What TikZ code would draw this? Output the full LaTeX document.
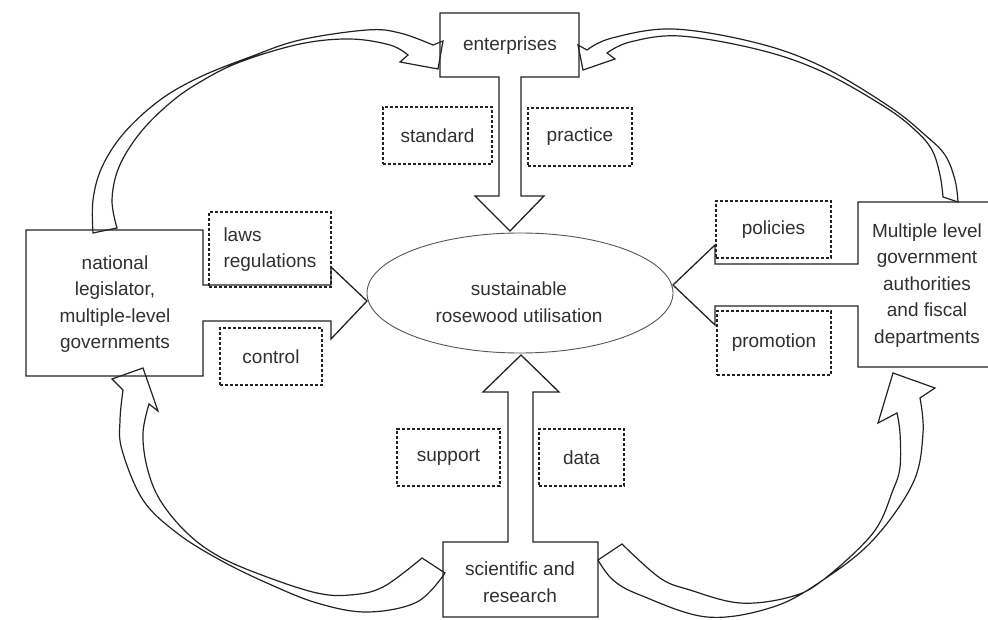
\documentclass[tikz,border=0pt]{standalone}
\usepackage{fontspec}
\setmainfont{Liberation Sans}
\usetikzlibrary{shapes.geometric}
\definecolor{ink}{HTML}{222222}
\definecolor{txt}{HTML}{303030}
\definecolor{ellc}{HTML}{555555}
\newcommand{\diagfont}{\fontsize{19}{26.5}\selectfont}
\begin{document}
\begin{tikzpicture}[x=1pt,y=-1pt,
  shapeline/.style={draw=ink, line width=1.3pt, line join=miter},
  dbox/.style={draw=ink, dash pattern=on 3.2pt off 1.8pt, line width=1.3pt, inner sep=0pt, font=\diagfont, text=txt, align=center},
  lbl/.style={font=\diagfont, text=txt, align=center, inner sep=0pt},
  curv/.style={draw=ink, line width=1.2pt, line join=miter}]
\useasboundingbox (0,0) rectangle (988,620);
\clip (0,0) rectangle (988,620);

% merged box + block arrow shapes
\draw[shapeline] (440,13) -- (579,13) -- (579,77) -- (521,77) -- (521,196) -- (544,196) -- (510,231) -- (475,196) -- (499,196) -- (499,77) -- (440,77) -- cycle;
\draw[shapeline] (443,542) -- (508,542) -- (508,392) -- (483,392) -- (521,355) -- (559,392) -- (533,392) -- (533,542) -- (598,542) -- (598,617) -- (443,617) -- cycle;
\draw[shapeline] (26,230) -- (203,230) -- (203,285) -- (331,285) -- (331,267) -- (367,301) -- (331,339) -- (331,321) -- (203,321) -- (203,376) -- (26,376) -- cycle;
\draw[shapeline] (995,202) -- (858,202) -- (858,264) -- (715,264) -- (715,245) -- (673,285) -- (715,325) -- (715,306) -- (858,306) -- (858,367) -- (995,367);

% central ellipse
\node[ellipse, draw=ellc, line width=0.9pt, minimum width=306pt, minimum height=120pt] (ell) at (520,293) {};
\node[lbl] (elltext) at (519,302) {sustainable\\rosewood utilisation};

% box texts
\node[lbl] (ent) at (510,46) {enterprises};
\node[lbl] (nat) at (115,304) {national\\legislator,\\multiple-level\\governments};
\node[lbl] (mult) at (927,285.5) {Multiple level\\government\\authorities\\and fiscal\\departments};
\node[lbl] (sci) at (520,582) {scientific and\\research};

% dashed label boxes
\node[dbox, minimum width=109pt, minimum height=57pt] (standard) at (437.5,135.5) {standard};
\node[dbox, minimum width=104pt, minimum height=58pt] (practice) at (580,137) {practice};
\node[dbox, minimum width=122pt, minimum height=75pt, align=left] (laws) at (270,249.5) {laws\\regulations};
\node[dbox, minimum width=102pt, minimum height=57pt] (control) at (271,356.5) {control};
\node[dbox, minimum width=115pt, minimum height=57pt] (policies) at (773.5,229.5) {policies};
\node[dbox, minimum width=114pt, minimum height=64pt] (promotion) at (774,343) {promotion};
\node[dbox, minimum width=103pt, minimum height=57pt] (support) at (448.5,457.5) {support};
\node[dbox, minimum width=85pt, minimum height=57pt] (data) at (581.5,457.5) {data};

% curved block arrows
% national -> enterprises
\draw[curv] plot[smooth,tension=0.6] coordinates {(93,233) (93,200) (102,167) (124,133) (160,100) (200,77) (250,57) (300,40) (367,30) (400,33) (433,45)}
  -- (443,41) -- (438,69) -- (400,62)
  -- plot[smooth,tension=0.6] coordinates {(408,55) (390,45) (350,39) (300,44) (240,62) (200,82) (170,103) (140,133) (119,167) (112,200) (117,228)} -- cycle;
% multiple level -> enterprises
\draw[curv] plot[smooth,tension=0.6] coordinates {(958,202) (955,180) (945,155) (925,135) (890,107) (823,67) (757,43) (673,29) (612,38) (587,50)}
  -- (578,45) -- (583,70) -- (615,59)
  -- plot[smooth,tension=0.6] coordinates {(607,53) (630,42) (680,36) (760,50) (823,72) (885,107) (915,130) (932,150) (940,175) (943,197)} -- cycle;
% scientific -> national
\draw[curv] plot[smooth,tension=0.6] coordinates {(445,573) (417,602) (367,612) (317,603) (267,583) (220,560) (177,533) (143,500) (122,450) (120,420) (123,390)}
  -- (112,379) -- (143,368) -- (158,411)
  -- plot[smooth,tension=0.6] coordinates {(149,404) (143,433) (147,467) (160,500) (187,533) (220,557) (267,577) (317,593) (350,595) (383,587) (422,558)} -- cycle;
% scientific -> multiple level
\draw[curv] plot[smooth,tension=0.6] coordinates {(598,560) (613,580) (640,595) (707,617) (773,607) (823,580) (873,540) (913,483) (923,433) (920,398)}
  -- (935,388) -- (893,373) -- (878,423)
  -- plot[smooth,tension=0.6] coordinates {(897,413) (900,433) (900,467) (893,490) (873,533) (823,580) (790,597) (740,603) (690,590) (660,578) (622,544)} -- cycle;
\end{tikzpicture}
\end{document}
